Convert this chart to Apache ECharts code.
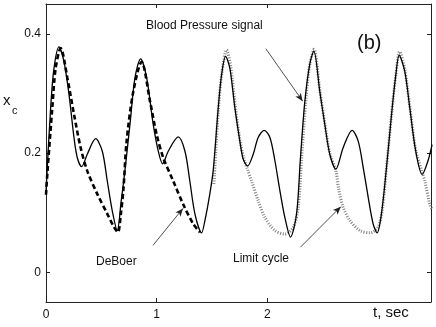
<!DOCTYPE html>
<html>
<head>
<meta charset="utf-8">
<script src="https://cdn.jsdelivr.net/npm/echarts@6/dist/echarts.min.js"></script>
<style>
  html, body { margin: 0; padding: 0; background: #fff; }
  #chart { width: 436px; height: 327px; }
</style>
</head>
<body>
<div id="chart"></div>
<script>
// blood pressure signal (solid)
const bpT = [0.00, 0.042, 0.072, 0.117, 0.163, 0.208, 0.253, 0.283, 0.322, 0.373, 0.449, 0.509, 0.554, 0.599, 0.644,
  0.68, 0.71, 0.759, 0.804, 0.855, 0.91, 0.969, 1.015, 1.054, 1.105, 1.195, 1.256, 1.30, 1.346, 1.406,
  1.44, 1.475, 1.511, 1.557, 1.587, 1.623, 1.662, 1.707, 1.752, 1.782, 1.822, 1.873, 1.918, 1.972, 2.024, 2.069, 2.114, 2.159, 2.21,
  2.265, 2.30, 2.34, 2.385, 2.421, 2.475, 2.52, 2.565, 2.62, 2.686, 2.767, 2.822, 2.867, 2.912, 2.957, 2.993,
  3.032, 3.078, 3.123, 3.162, 3.192, 3.243, 3.288, 3.342, 3.40, 3.453, 3.49];
const bpX = [0.135, 0.276, 0.342, 0.378, 0.353, 0.298, 0.226, 0.192, 0.177, 0.198, 0.224, 0.203, 0.153, 0.103, 0.07,
  0.12, 0.165, 0.248, 0.326, 0.358, 0.326, 0.248, 0.203, 0.182, 0.203, 0.227, 0.203, 0.153, 0.098, 0.066,
  0.09, 0.125, 0.17, 0.276, 0.331, 0.362, 0.342, 0.276, 0.22, 0.19, 0.178, 0.198, 0.226, 0.238, 0.226, 0.187, 0.137, 0.092, 0.059,
  0.098, 0.192, 0.287, 0.35, 0.371, 0.303, 0.248, 0.198, 0.173, 0.209, 0.238, 0.22, 0.176, 0.126, 0.081, 0.066,
  0.098, 0.176, 0.264, 0.331, 0.364, 0.337, 0.276, 0.203, 0.164, 0.187, 0.214];

// DeBoer model (dashed)
const dbT = [0.00, 0.012, 0.057, 0.087, 0.133, 0.193, 0.253, 0.313, 0.373, 0.464, 0.554, 0.614, 0.65,
  0.675, 0.70, 0.729, 0.789, 0.864, 0.94, 1.00, 1.06, 1.15, 1.24, 1.331, 1.391];
const dbX = [0.13, 0.165, 0.276, 0.342, 0.376, 0.326, 0.265, 0.209, 0.17, 0.131, 0.098, 0.076, 0.067,
  0.095, 0.14, 0.22, 0.303, 0.353, 0.287, 0.231, 0.192, 0.153, 0.114, 0.081, 0.067];

// limit cycle (dotted)
const lcT = [1.518, 1.557, 1.59, 1.632, 1.67, 1.71, 1.755, 1.79, 1.822, 1.858, 1.918, 1.978, 2.069, 2.159, 2.234, 2.28,
  2.31, 2.35, 2.385, 2.423, 2.475, 2.52, 2.565, 2.62, 2.645, 2.686, 2.746, 2.837, 2.927, 3.00, 3.04,
  3.078, 3.123, 3.162, 3.196, 3.243, 3.288, 3.342, 3.40, 3.424, 3.469, 3.49];
const lcX = [0.148, 0.27, 0.335, 0.373, 0.345, 0.28, 0.22, 0.19, 0.172, 0.153, 0.12, 0.092, 0.07, 0.064, 0.075, 0.109,
  0.19, 0.29, 0.35, 0.374, 0.305, 0.25, 0.2, 0.17, 0.14, 0.109, 0.087, 0.07, 0.066, 0.075, 0.105,
  0.176, 0.264, 0.331, 0.37, 0.34, 0.278, 0.205, 0.168, 0.153, 0.114, 0.105];

const xTicks = [0, 1, 2];
const yTicks = [0, 0.2, 0.4];

// annotation arrows [from, to] in data units
const arrows = [
  [[1.987, 0.375], [2.32, 0.287]],
  [[0.967, 0.045], [1.238, 0.107]],
  [[2.30, 0.042], [2.665, 0.11]],
];

const zip = (a, b) => a.map((v, i) => [v, b[i]]);
const font = 'Liberation Sans, Arial, sans-serif';

const chart = echarts.init(document.getElementById('chart'));

const axisX = (pos, showLabel) => ({
  type: 'value',
  position: pos,
  min: 0,
  max: 3.48,
  axisLine: { show: true, onZero: false, lineStyle: { color: '#222', width: 1 } },
  axisTick: { show: true, inside: true, length: 4, customValues: xTicks, lineStyle: { color: '#222' } },
  axisLabel: { show: showLabel, customValues: xTicks, color: '#111', fontSize: 12, fontFamily: font, margin: 7 },
  splitLine: { show: false },
});
const axisY = (pos, showLabel) => ({
  type: 'value',
  position: pos,
  min: -0.05,
  max: 0.45,
  axisLine: { show: true, onZero: false, lineStyle: { color: '#222', width: 1 } },
  axisTick: { show: true, inside: true, length: 4, customValues: yTicks, lineStyle: { color: '#222' } },
  axisLabel: { show: showLabel, customValues: yTicks, color: '#111', fontSize: 12, fontFamily: font, margin: 5 },
  splitLine: { show: false },
});

chart.setOption({
  animation: false,
  backgroundColor: '#fff',
  grid: { left: 46, right: 5, top: 4, bottom: 25 },
  xAxis: [axisX('bottom', true), axisX('top', false)],
  yAxis: [axisY('left', true), axisY('right', false)],
  series: [
    {
      name: 'Limit cycle',
      type: 'line',
      data: zip(lcT, lcX),
      smooth: 0.3,
      showSymbol: false,
      lineStyle: { color: '#808080', width: 3, type: [1, 1.6] },
      z: 2,
    },
    {
      name: 'DeBoer',
      type: 'line',
      data: zip(dbT, dbX),
      smooth: 0.3,
      showSymbol: false,
      lineStyle: { color: '#000', width: 2.6, type: [5, 3] },
      z: 3,
    },
    {
      name: 'Blood Pressure signal',
      type: 'line',
      data: zip(bpT, bpX),
      smooth: 0.3,
      showSymbol: false,
      lineStyle: { color: '#000', width: 1.3 },
      z: 4,
      markLine: {
        silent: true,
        symbol: ['none', 'arrow'],
        symbolSize: [5, 8],
        label: { show: false },
        lineStyle: { color: '#222', width: 0.8, type: 'solid' },
        data: arrows.map(a => [{ coord: a[0] }, { coord: a[1] }]),
      },
    },
  ],
  graphic: [
    { type: 'text', left: 146, top: 20, style: { text: 'Blood Pressure signal', font: '12px ' + font, fill: '#111' } },
    { type: 'text', left: 357, top: 33, style: { text: '(b)', font: '20px ' + font, fill: '#111' } },
    { type: 'text', left: 96, top: 256, style: { text: 'DeBoer', font: '12px ' + font, fill: '#111' } },
    { type: 'text', left: 233, top: 253, style: { text: 'Limit cycle', font: '12px ' + font, fill: '#111' } },
    { type: 'text', left: 373, top: 305, style: { text: 't, sec', font: '15px ' + font, fill: '#111' } },
    { type: 'text', left: 3, top: 93, style: { text: 'x', font: '15px ' + font, fill: '#111' } },
    { type: 'text', left: 12, top: 105, style: { text: 'c', font: '11px ' + font, fill: '#111' } },
  ],
});
</script>
</body>
</html>
